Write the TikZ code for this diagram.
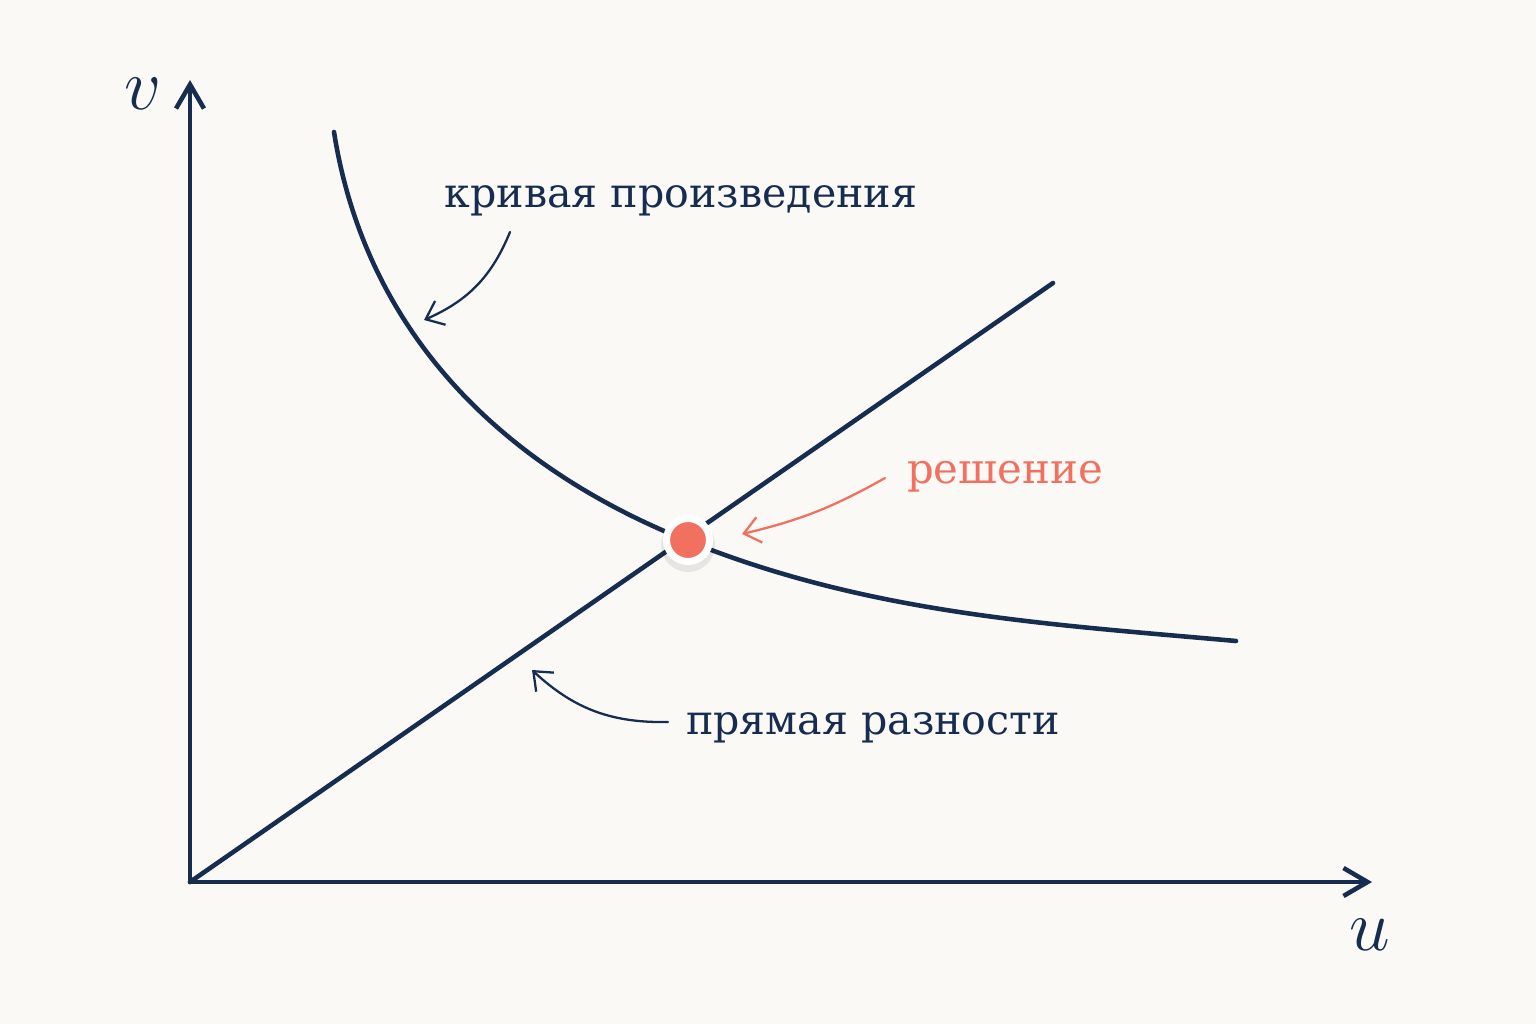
\documentclass[tikz,border=0pt]{standalone}
\usepackage{fontspec}
\setmainfont{DejaVu Serif}
\usepackage{amsmath}
\usetikzlibrary{arrows.meta, positioning, calc}
\definecolor{navy}{RGB}{22,45,80}
\definecolor{solcolor}{RGB}{242,112,96}
\definecolor{paper}{RGB}{251,249,246}

\begin{document}
\begin{tikzpicture}[
    every node/.style={font=\fontsize{11.7}{14}\selectfont, text=navy},
    axisline/.style={navy, line width=1.3pt, line cap=round,
        -{Straight Barb[length=2.4mm, width=2.8mm]}},
    graphline/.style={navy, line width=1.3pt, line cap=round},
    pointer/.style={navy, line width=0.65pt, line cap=round,
        -{Straight Barb[length=1.6mm, width=2.6mm]}},
    solpointer/.style={pointer, solcolor},
    axislabel/.style={font=\fontsize{21}{24}\selectfont},
    soldot/.style={circle, fill=solcolor, draw=white, line width=0.07cm,
        minimum size=0.43cm, inner sep=0pt},
]

% === CANVAS ===
\fill[paper] (0,0) rectangle (15.36,10.24);
\useasboundingbox (0,0) rectangle (15.36,10.24);

% === AXES ===
\coordinate (O) at (1.90,1.42);
\coordinate (vtip) at (1.90,9.44);
\coordinate (utip) at (13.72,1.42);
\draw[axisline] (O) -- (vtip);
\draw[axisline] (O) -- (utip);
\node[axislabel] (vlabel) at (1.43,9.30) {$v$};
\node[axislabel] (ulabel) at (13.70,0.89) {$u$};

% === GRAPHS ===
% difference line
\coordinate (lineend) at (10.53,7.41);
\draw[graphline] (O) -- (lineend);
% product curve
\coordinate (curvestart) at (3.34,8.92);
\coordinate (curveend) at (12.36,3.83);
\draw[graphline] (curvestart) .. controls (3.64,7.02) and (4.90,5.62) .. (6.88,4.83)
    .. controls (8.70,4.10) and (10.46,4.00) .. (curveend);

% solution point
\fill[black, opacity=0.08] (6.88,4.79) circle (0.27);
\node[soldot] (sol) at (6.88,4.84) {};

% === LABELS ===
\node (lblcurve) at (6.81,8.23) {кривая произведения};
\node (lblline) at (8.73,2.96) {прямая разности};
\node[text=solcolor, font=\fontsize{11.9}{15}\selectfont] (lblsol) at (10.05,5.47) {решение};

% pointers
\coordinate (curvept) at (4.24,7.04);
\coordinate (linept) at (5.32,3.54);
\coordinate (solpt) at (7.42,4.90);
\draw[pointer] (5.10,7.92) to[bend left=22] (curvept);
\draw[pointer] (6.68,3.02) to[bend left=22] (linept);
\draw[solpointer] (8.85,5.46) to[bend left=8] (solpt);

\end{tikzpicture}
\end{document}
